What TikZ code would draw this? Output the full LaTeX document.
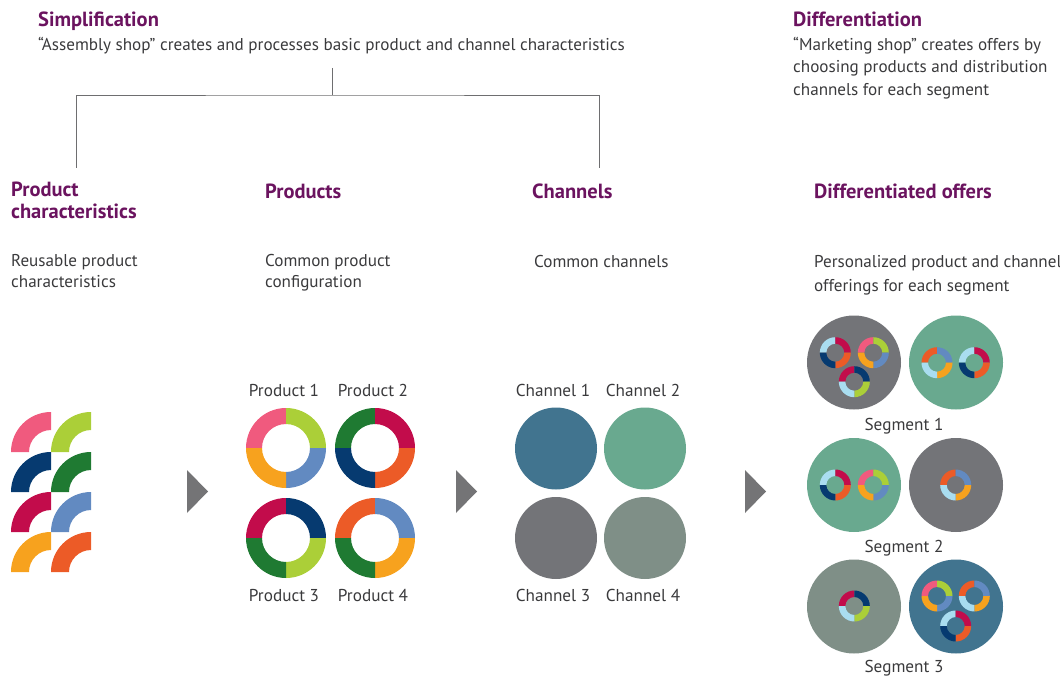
\documentclass[tikz,border=0pt]{standalone}
\usepackage{fontspec}
\setmainfont{PT Sans}
\usetikzlibrary{calc}

\definecolor{headC}{HTML}{6B135F}
\definecolor{txtC}{HTML}{3A3A3C}
\definecolor{lineC}{HTML}{6E6E70}
\definecolor{arrowC}{HTML}{747476}
\definecolor{pinkC}{HTML}{F05A7E}
\definecolor{limeC}{HTML}{ABCF38}
\definecolor{navyC}{HTML}{063A70}
\definecolor{greenC}{HTML}{1F7A32}
\definecolor{crimsonC}{HTML}{C20C4B}
\definecolor{steelC}{HTML}{628AC1}
\definecolor{orangeC}{HTML}{F7A21E}
\definecolor{redorC}{HTML}{EC5B27}
\definecolor{skyC}{HTML}{A9DDF0}
\definecolor{chA}{HTML}{41748F}
\definecolor{chB}{HTML}{69A98F}
\definecolor{chC}{HTML}{737478}
\definecolor{chD}{HTML}{7F8F87}

% annular sector: cx, cy, outer r, inner r, start, end, colour
\newcommand\qsector[7]{%
  \fill[#7] (#1,#2) ++(#5:#3) arc[start angle=#5,end angle=#6,radius=#3]
    -- ++(#6:{#4-#3}) arc[start angle=#6,end angle=#5,radius=#4] -- cycle;}
% ring of four quarters: cx, cy, R, r, top-left, top-right, bottom-right, bottom-left
\newcommand\ringq[8]{%
  \qsector{#1}{#2}{#3}{#4}{180}{270}{#5}%
  \qsector{#1}{#2}{#3}{#4}{270}{360}{#6}%
  \qsector{#1}{#2}{#3}{#4}{0}{90}{#7}%
  \qsector{#1}{#2}{#3}{#4}{90}{180}{#8}}

\tikzset{
  head/.style={anchor=base west, inner sep=0pt, text=headC, font=\fontsize{20.5}{23}\selectfont\bfseries},
  body/.style={anchor=base west, inner sep=0pt, text=txtC, font=\fontsize{17.1}{21}\selectfont},
  lbl/.style={anchor=base, inner sep=0pt, text=txtC, font=\fontsize{17.2}{19}\selectfont},
  bracket/.style={draw=lineC, line width=0.9pt},
  tri/.style={fill=arrowC},
  chan/.style={circle, inner sep=0pt, minimum size=82pt},
  seg/.style={circle, inner sep=0pt, minimum size=94pt},
}

\begin{document}
\begin{tikzpicture}[x=1pt,y=-1pt]
\useasboundingbox (0,0) rectangle (1060,676);

% top captions
\node[head] (simp) at (38,27) {Simplification};
\node[body] (simpd) at (38,51) {“Assembly shop” creates and processes basic product and channel characteristics};
\node[head] (diff) at (793,27) {Differentiation};
\node[body] (diffa) at (793,51) {“Marketing shop” creates offers by};
\node[body] (diffb) at (793,73) {choosing products and distribution};
\node[body] (diffc) at (793,96) {channels for each segment};

% bracket
\coordinate (bt) at (332,68);
\coordinate (bm) at (332,95);
\coordinate (bld) at (76,168);
\coordinate (brd) at (599,168);
\draw[bracket] (bt) -- (bm);
\draw[bracket] (bld) |- (bm) -| (brd);

% column headings
\node[head] (h1a) at (11,197) {Product};
\node[head] (h1b) at (11,219) {characteristics};
\node[head] (h2) at (265,199) {Products};
\node[head] (h3) at (532,199) {Channels};
\node[head] (h4) at (814,199) {Differentiated offers};

\node[body] (d1a) at (11,267) {Reusable product};
\node[body] (d1b) at (11,288) {characteristics};
\node[body] (d2a) at (265,267) {Common product};
\node[body] (d2b) at (265,288) {configuration};
\node[body] (d3) at (534,268) {Common channels};
\node[body] (d4a) at (814,268) {Personalized product and channel};
\node[body] (d4b) at (814,291) {offerings for each segment};

% product characteristics
\qsector{51}{452}{40}{22}{180}{270}{pinkC}
\qsector{91}{452}{40}{22}{180}{270}{limeC}
\qsector{51}{492}{40}{22}{180}{270}{navyC}
\qsector{91}{492}{40}{22}{180}{270}{greenC}
\qsector{51}{532}{40}{22}{180}{270}{crimsonC}
\qsector{91}{532}{40}{22}{180}{270}{steelC}
\qsector{51}{572}{40}{22}{180}{270}{orangeC}
\qsector{91}{572}{40}{22}{180}{270}{redorC}

% arrows
\fill[tri] (187,470) -- (208,491.5) -- (187,513) -- cycle;
\fill[tri] (456,470) -- (477,491.5) -- (456,513) -- cycle;
\fill[tri] (745,470) -- (766,491.5) -- (745,513) -- cycle;

% products
\node[lbl] (p1) at (284,396) {Product 1};
\node[lbl] (p2) at (373,396) {Product 2};
\node[lbl] (p3) at (284,601) {Product 3};
\node[lbl] (p4) at (373,601) {Product 4};
\ringq{286}{448}{40}{24}{pinkC}{limeC}{steelC}{orangeC}
\ringq{375}{448}{40}{24}{greenC}{crimsonC}{redorC}{navyC}
\ringq{286}{538}{40}{24}{crimsonC}{navyC}{limeC}{greenC}
\ringq{375}{538}{40}{24}{redorC}{steelC}{orangeC}{greenC}

% channels
\node[lbl] (c1l) at (553,396) {Channel 1};
\node[lbl] (c2l) at (643,396) {Channel 2};
\node[lbl] (c3l) at (553,601) {Channel 3};
\node[lbl] (c4l) at (643,601) {Channel 4};
\node[chan, fill=chA] (c1) at (556,448.5) {};
\node[chan, fill=chB] (c2) at (645,448.5) {};
\node[chan, fill=chC] (c3) at (556,538) {};
\node[chan, fill=chD] (c4) at (645,538) {};

% segments
\node[seg, fill=chC] (s1a) at (854,362.5) {};
\node[seg, fill=chB] (s1b) at (956,362.5) {};
\node[lbl] (s1) at (904,430) {Segment 1};
\ringq{835.3}{352.7}{15.5}{9}{skyC}{crimsonC}{redorC}{navyC}
\ringq{873.3}{352.7}{15.5}{9}{pinkC}{limeC}{steelC}{orangeC}
\ringq{854.3}{381.7}{15.5}{9}{crimsonC}{navyC}{limeC}{skyC}
\ringq{937}{362.7}{15.5}{9}{redorC}{steelC}{orangeC}{skyC}
\ringq{974.3}{362.7}{15.5}{9}{skyC}{crimsonC}{redorC}{navyC}

\node[seg, fill=chB] (s2a) at (854,485) {};
\node[seg, fill=chC] (s2b) at (956,485) {};
\node[lbl] (s2) at (904,552) {Segment 2};
\ringq{835.3}{485}{15.5}{9}{skyC}{crimsonC}{redorC}{navyC}
\ringq{873.3}{485}{15.5}{9}{pinkC}{limeC}{steelC}{orangeC}
\ringq{955.7}{485}{15.5}{9}{redorC}{steelC}{orangeC}{skyC}

\node[seg, fill=chD] (s3a) at (854,606.5) {};
\node[seg, fill=chA] (s3b) at (956,606.5) {};
\node[lbl] (s3) at (904,672) {Segment 3};
\ringq{854.3}{606}{15.5}{9}{crimsonC}{navyC}{limeC}{skyC}
\ringq{937}{596}{15.5}{9}{pinkC}{limeC}{steelC}{orangeC}
\ringq{974.3}{596}{15.5}{9}{redorC}{steelC}{orangeC}{skyC}
\ringq{955.7}{626}{15.5}{9}{skyC}{crimsonC}{redorC}{navyC}
\end{tikzpicture}
\end{document}
